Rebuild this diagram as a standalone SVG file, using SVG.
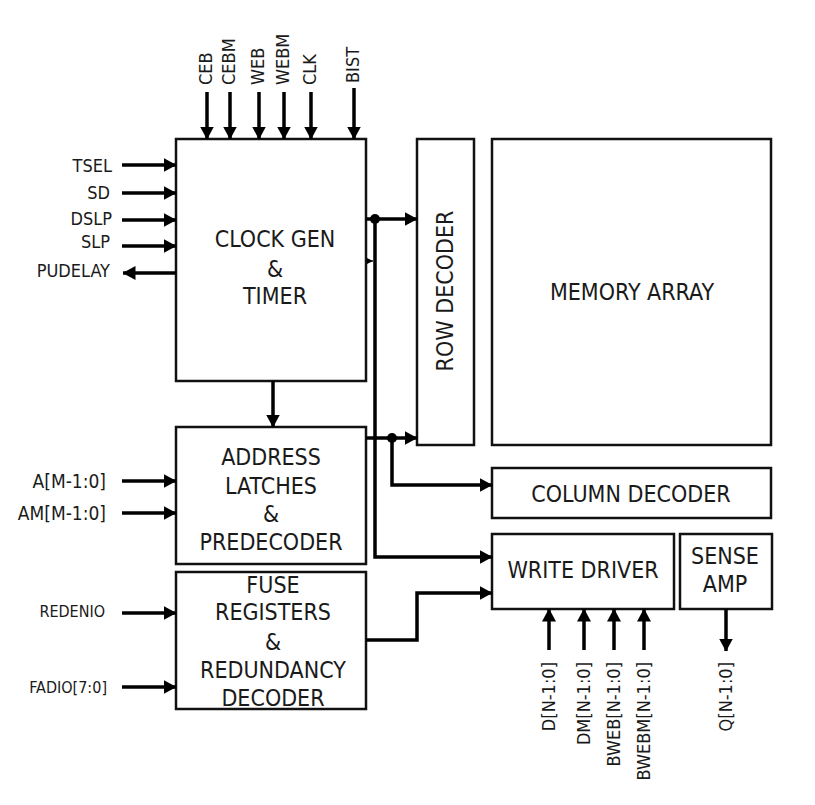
<svg xmlns="http://www.w3.org/2000/svg" width="815" height="805" viewBox="0 0 815 805">
<defs>
<marker id="ah" markerUnits="userSpaceOnUse" markerWidth="13" markerHeight="14" refX="12.5" refY="7" orient="auto">
<path d="M0,0 L13,7 L0,14 z" fill="#000"/>
</marker>
<marker id="ahs" markerUnits="userSpaceOnUse" markerWidth="7" markerHeight="7" refX="6" refY="3" orient="auto">
<path d="M0,0 L6,3 L0,6 z" fill="#000"/>
</marker>
</defs>
<style>
.box{fill:#fff;stroke:#111;stroke-width:2.5}
.t{font-family:"DejaVu Sans Condensed","DejaVu Sans",sans-serif;font-stretch:condensed;fill:#1a1a1a}
.big{font-size:23px;text-anchor:middle}
.sig{font-size:18px}
.sm{font-size:16px}
.w{fill:none;stroke:#000;stroke-width:3.5}
.a{marker-end:url(#ah)}
</style>
<rect width="815" height="805" fill="#fff"/>

<g id="clock-gen">
<rect class="box" x="176" y="139" width="190" height="242"/>
<text class="t big" x="275" y="247">CLOCK GEN</text>
<text class="t big" x="275" y="277">&amp;</text>
<text class="t big" x="275" y="304">TIMER</text>
</g>

<g id="row-decoder">
<rect class="box" x="417" y="139" width="57" height="306"/>
<text class="t big" transform="translate(453,291) rotate(-90)">ROW DECODER</text>
</g>

<g id="memory-array">
<rect class="box" x="492" y="139" width="279" height="306"/>
<text class="t big" x="632" y="300">MEMORY ARRAY</text>
</g>

<g id="column-decoder">
<rect class="box" x="492" y="468" width="279" height="50"/>
<text class="t big" x="631" y="502">COLUMN DECODER</text>
</g>

<g id="address-latches">
<rect class="box" x="176" y="427" width="190" height="137"/>
<text class="t big" x="271" y="465">ADDRESS</text>
<text class="t big" x="271" y="494">LATCHES</text>
<text class="t big" x="271" y="522">&amp;</text>
<text class="t big" x="271" y="550">PREDECODER</text>
</g>

<g id="fuse-registers">
<rect class="box" x="176" y="572" width="190" height="137"/>
<text class="t big" x="273" y="593">FUSE</text>
<text class="t big" x="273" y="620">REGISTERS</text>
<text class="t big" x="273" y="650">&amp;</text>
<text class="t big" x="273" y="678">REDUNDANCY</text>
<text class="t big" x="273" y="706">DECODER</text>
</g>

<g id="write-driver">
<rect class="box" x="492" y="534" width="182" height="75"/>
<text class="t big" x="583" y="578">WRITE DRIVER</text>
</g>

<g id="sense-amp">
<rect class="box" x="680" y="534" width="92" height="75"/>
<text class="t big" x="725" y="564">SENSE</text>
<text class="t big" x="725" y="592">AMP</text>
</g>

<g id="labels">
<text class="t sig" transform="translate(212,85) rotate(-90)">CEB</text>
<text class="t sig" transform="translate(235,85) rotate(-90)">CEBM</text>
<text class="t sig" transform="translate(264,85) rotate(-90)">WEB</text>
<text class="t sig" transform="translate(289,85) rotate(-90)">WEBM</text>
<text class="t sig" transform="translate(316,85) rotate(-90)">CLK</text>
<text class="t sig" transform="translate(359,83) rotate(-90)">BIST</text>

<text class="t sig" text-anchor="end" x="112" y="172">TSEL</text>
<text class="t sig" text-anchor="end" x="110" y="199">SD</text>
<text class="t sig" text-anchor="end" x="112" y="225">DSLP</text>
<text class="t sig" text-anchor="end" x="110" y="248">SLP</text>
<text class="t sig" text-anchor="end" x="110" y="277">PUDELAY</text>

<text class="t sig" text-anchor="end" x="106" y="488" style="font-size:19px">A[M-1:0]</text>
<text class="t sig" text-anchor="end" x="106" y="520" style="font-size:19px">AM[M-1:0]</text>
<text class="t sm" text-anchor="end" x="105" y="617">REDENIO</text>
<text class="t sm" text-anchor="end" x="107" y="693">FADIO[7:0]</text>

<text class="t sig" text-anchor="end" transform="translate(555,662) rotate(-90)">D[N-1:0]</text>
<text class="t sig" text-anchor="end" transform="translate(590,662) rotate(-90)">DM[N-1:0]</text>
<text class="t sig" text-anchor="end" transform="translate(620,662) rotate(-90)">BWEB[N-1:0]</text>
<text class="t sig" text-anchor="end" transform="translate(650,662) rotate(-90)">BWEBM[N-1:0]</text>
<text class="t sig" text-anchor="end" transform="translate(732,662) rotate(-90)">Q[N-1:0]</text>
</g>

<g id="connectors">
<line class="w a" x1="207" y1="92" x2="207" y2="139"/>
<line class="w a" x1="230" y1="92" x2="230" y2="139"/>
<line class="w a" x1="259" y1="92" x2="259" y2="139"/>
<line class="w a" x1="284" y1="92" x2="284" y2="139"/>
<line class="w a" x1="311" y1="92" x2="311" y2="139"/>
<line class="w a" x1="354" y1="88" x2="354" y2="139"/>

<line class="w a" x1="122" y1="165" x2="176" y2="165"/>
<line class="w a" x1="122" y1="193" x2="176" y2="193"/>
<line class="w a" x1="122" y1="220" x2="176" y2="220"/>
<line class="w a" x1="122" y1="246" x2="176" y2="246"/>
<line class="w a" x1="176" y1="273" x2="123" y2="273"/>

<line class="w a" x1="122" y1="481" x2="176" y2="481"/>
<line class="w a" x1="122" y1="513" x2="176" y2="513"/>
<line class="w a" x1="122" y1="613" x2="176" y2="613"/>
<line class="w a" x1="122" y1="687" x2="176" y2="687"/>

<line class="w a" x1="273" y1="381" x2="273" y2="427"/>

<line class="w a" x1="366" y1="219" x2="417" y2="219"/>
<polyline class="w a" points="375,219 375,557 492,557"/>
<circle cx="375" cy="219" r="5" fill="#000"/>
<line x1="366" y1="261" x2="373" y2="261" stroke="#000" stroke-width="1.2" marker-end="url(#ahs)"/>

<line class="w a" x1="366" y1="438" x2="417" y2="438"/>
<polyline class="w a" points="392,438 392,485 492,485"/>
<circle cx="392" cy="438" r="5" fill="#000"/>

<polyline class="w a" points="366,640 417,640 417,593 492,593"/>

<line class="w a" x1="549" y1="650" x2="549" y2="609"/>
<line class="w a" x1="584" y1="650" x2="584" y2="609"/>
<line class="w a" x1="614" y1="650" x2="614" y2="609"/>
<line class="w a" x1="644" y1="650" x2="644" y2="609"/>
<line class="w a" x1="726" y1="609" x2="726" y2="651"/>
</g>
</svg>
